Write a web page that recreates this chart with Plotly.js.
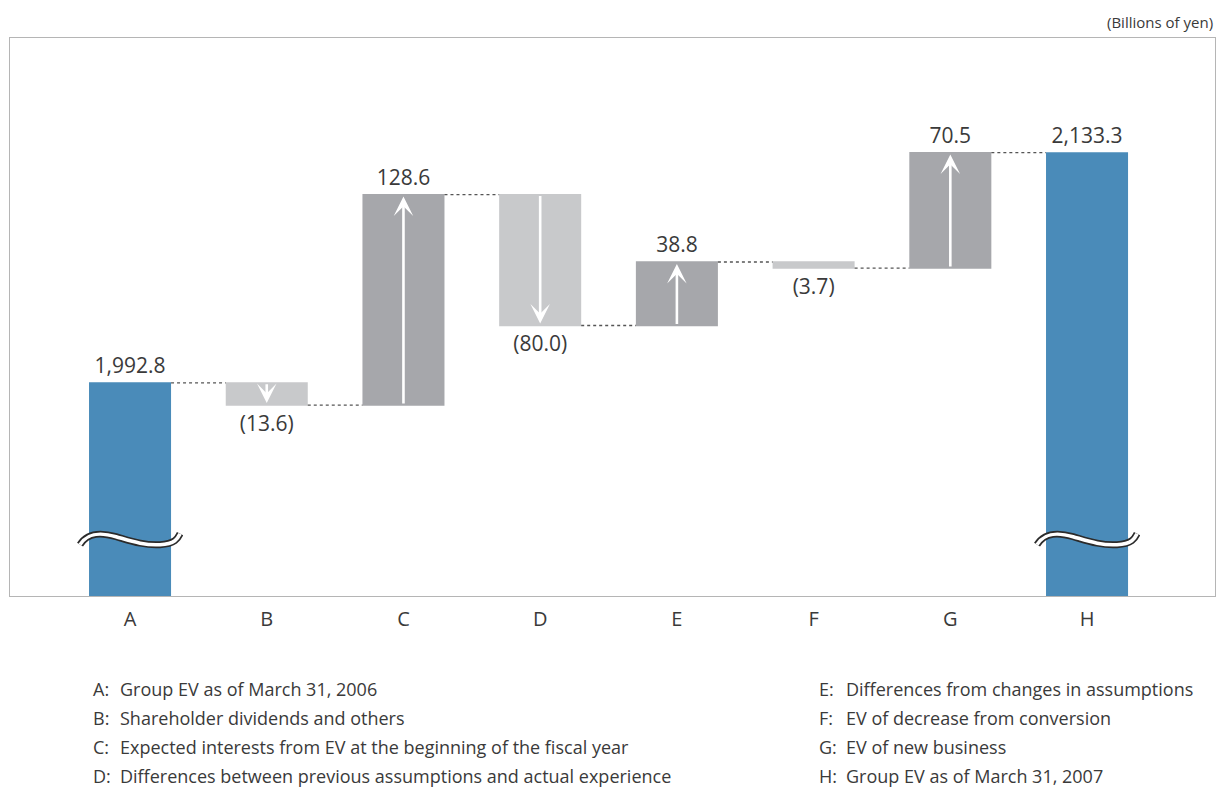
<!DOCTYPE html>
<html>
<head>
<meta charset="utf-8">
<script src="https://cdn.plot.ly/plotly-3.0.1.min.js"></script>
<style>
  html, body { margin: 0; padding: 0; background: #ffffff; }
  #chart { width: 1218px; height: 788px; }
</style>
</head>
<body>
<div id="chart"></div>
<script>
// Group EV movement, billions of yen
const categories = ['A', 'B', 'C', 'D', 'E', 'F', 'G', 'H'];
const measures = ['absolute', 'relative', 'relative', 'relative', 'relative', 'relative', 'relative', 'absolute'];
const values = [1992.8, -13.6, 128.6, -80.0, 38.8, -3.7, 70.5, 2133.3];
const valueLabels = ['1,992.8', '(13.6)', '128.6', '(80.0)', '38.8', '(3.7)', '70.5', '2,133.3'];

const legendLetters = ['A:', 'B:', 'C:', 'D:', 'E:', 'F:', 'G:', 'H:'];
const legendTexts = [
  'Group EV as of March 31, 2006',
  'Shareholder dividends and others',
  'Expected interests from EV at the beginning of the fiscal year',
  'Differences between previous assumptions and actual experience',
  'Differences from changes in assumptions',
  'EV of decrease from conversion',
  'EV of new business',
  'Group EV as of March 31, 2007'
];
const unitLabel = '(Billions of yen)';

const FONT = '"Open Sans", "Noto Sans", sans-serif';
const TEXT = '#3a3a3a';
const BLUE = '#4a8bb9';
const UP = '#a6a7ab';
const DOWN = '#c8c9cb';

const xs = categories.map((_, i) => i);

// running levels for arrows
const starts = [], ends = [];
let level = 0;
values.forEach((v, i) => {
  if (measures[i] === 'absolute') { starts.push(null); level = v; ends.push(v); }
  else { starts.push(level); level += v; ends.push(level); }
});

const trace = {
  type: 'waterfall',
  x: xs,
  y: values,
  measure: measures,
  width: 0.6,
  text: valueLabels,
  textposition: 'outside',
  textfont: { family: FONT, size: 21, color: TEXT },
  cliponaxis: false,
  increasing: { marker: { color: UP } },
  decreasing: { marker: { color: DOWN } },
  totals: { marker: { color: BLUE } },
  connector: { mode: 'between', line: { color: '#555555', width: 1.3, dash: 'dot' } },
  hoverinfo: 'skip'
};

const annotations = [];

// white arrows inside each change bar
xs.forEach((x, i) => {
  if (measures[i] !== 'relative') return;
  annotations.push({
    x: x, y: ends[i], ax: x, ay: starts[i],
    xref: 'x', yref: 'y', axref: 'x', ayref: 'y',
    text: '', showarrow: true,
    arrowhead: 3, arrowsize: 1.25, arrowwidth: 2.6, arrowcolor: '#ffffff',
    standoff: 2
  });
});

// plot box in pixels: left 10, right 1215, top 38, bottom 596
const px2paperX = p => (p - 10) / 1205;
const px2paperY = p => (596 - p) / 558;

// explanatory list below the chart
const colX = [[91, 118], [817, 844]];
legendLetters.forEach((letter, i) => {
  const col = i < 4 ? 0 : 1;
  const row = i % 4;
  const yy = px2paperY(689 + row * 29);
  annotations.push({
    xref: 'paper', yref: 'paper', x: px2paperX(colX[col][0]), y: yy,
    xanchor: 'left', yanchor: 'middle', showarrow: false,
    text: letter, font: { family: FONT, size: 18, color: TEXT }
  });
  annotations.push({
    xref: 'paper', yref: 'paper', x: px2paperX(colX[col][1]), y: yy,
    xanchor: 'left', yanchor: 'middle', showarrow: false,
    text: legendTexts[i], font: { family: FONT, size: 18, color: TEXT }
  });
});

annotations.push({
  xref: 'paper', yref: 'paper', x: 1, y: px2paperY(22),
  xanchor: 'right', yanchor: 'middle', showarrow: false,
  text: unitLabel, font: { family: FONT, size: 15, color: TEXT }
});

// axis break marks on the two total bars
const wave = 'M-50,-5 C-42,8 -28,7 -14,3 S14,-6 30,-5 S48,2 50,6';
const shapes = [];
[0, 7].forEach(i => {
  [{ color: '#2b2b2b', width: 7 }, { color: '#ffffff', width: 3.6 }].forEach(st => {
    shapes.push({
      type: 'path', layer: 'above',
      xref: 'x', yref: 'y', xsizemode: 'pixel', ysizemode: 'pixel',
      xanchor: xs[i], yanchor: 1897,
      path: wave,
      line: { color: st.color, width: st.width }
    });
  });
});

const layout = {
  width: 1218, height: 788,
  margin: { l: 10, r: 3, t: 38, b: 192 },
  paper_bgcolor: '#ffffff', plot_bgcolor: '#ffffff',
  showlegend: false,
  font: { family: FONT, color: TEXT },
  xaxis: {
    range: [-0.878, 7.936],
    tickvals: xs, ticktext: categories,
    tickfont: { family: FONT, size: 20, color: TEXT },
    ticks: 'outside', ticklen: 5, tickcolor: 'rgba(0,0,0,0)',
    showgrid: false, zeroline: false,
    showline: true, mirror: true, linecolor: '#b5b5b5', linewidth: 1
  },
  yaxis: {
    range: [1862.6, 2203.4],
    showticklabels: false, ticks: '',
    showgrid: false, zeroline: false,
    showline: true, mirror: true, linecolor: '#b5b5b5', linewidth: 1
  },
  annotations: annotations,
  shapes: shapes
};

Plotly.newPlot('chart', [trace], layout, { displayModeBar: false, staticPlot: true });
</script>
</body>
</html>
